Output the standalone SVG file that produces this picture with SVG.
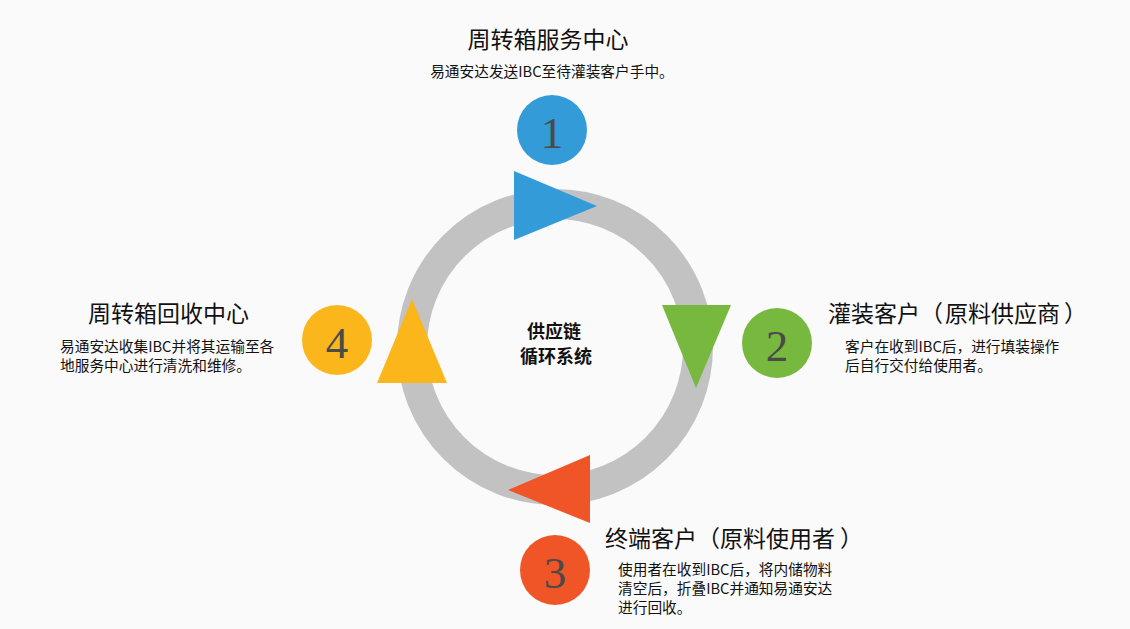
<svg xmlns="http://www.w3.org/2000/svg" width="1130" height="629" viewBox="0 0 1130 629">
<style>
.title{font-family:"Noto Sans CJK SC","Microsoft YaHei",sans-serif;font-size:23px;fill:#111}
.desc{font-family:"Noto Sans CJK SC","Microsoft YaHei",sans-serif;font-size:14.7px;fill:#111}
.center{font-family:"Noto Sans CJK SC",sans-serif;font-size:18px;font-weight:bold;fill:#111;text-anchor:middle}
.num{font-family:"Liberation Serif","DejaVu Serif",serif;font-size:45px;fill:#4a4a4a;text-anchor:middle}
</style>
<rect width="1130" height="629" fill="#fafafa"/>
<g id="connectors">
<circle cx="555" cy="347" r="143" fill="none" stroke="#c2c2c2" stroke-width="30"/>
</g>
<g id="center">
<text class="center" x="554" y="338">供应链</text>
<text class="center" x="556" y="363">循环系统</text>
</g>
<g id="node1">
<polygon points="514,171 514,240 597,206" fill="#339bd7"/>
<circle cx="552" cy="130" r="35" fill="#339bd7"/>
<text class="num" x="552" y="148">1</text>
<text class="title" x="548" y="48" text-anchor="middle">周转箱服务中心</text>
<text class="desc" x="552" y="77" text-anchor="middle">易通安达发送IBC至待灌装客户手中。</text>
</g>
<g id="node2">
<polygon points="662,305 731,305 696,388" fill="#77b83f"/>
<circle cx="777" cy="343" r="35" fill="#77b83f"/>
<text class="num" x="777" y="361">2</text>
<text class="title" y="322"><tspan x="828">灌装客户</tspan><tspan x="920">（</tspan><tspan x="945">原料供应商</tspan><tspan x="1064">）</tspan></text>
<text class="desc"><tspan x="845" y="352">客户在收到IBC后，进行填装操作</tspan><tspan x="845" y="371">后自行交付给使用者。</tspan></text>
</g>
<g id="node3">
<polygon points="590,455 590,523 508,490" fill="#ef5527"/>
<circle cx="555" cy="570" r="35" fill="#ef5527"/>
<text class="num" x="555" y="588">3</text>
<text class="title" y="547"><tspan x="605">终端客户</tspan><tspan x="697">（</tspan><tspan x="720">原料使用者</tspan><tspan x="840">）</tspan></text>
<text class="desc"><tspan x="618" y="575">使用者在收到IBC后，将内储物料</tspan><tspan x="618" y="594">清空后，折叠IBC并通知易通安达</tspan><tspan x="618" y="613">进行回收。</tspan></text>
</g>
<g id="node4">
<polygon points="412,299 377,383 447,383" fill="#fbb61b"/>
<circle cx="337" cy="340" r="35" fill="#fbb61b"/>
<text class="num" x="337" y="358">4</text>
<text class="title" x="88" y="322">周转箱回收中心</text>
<text class="desc"><tspan x="60" y="352">易通安达收集IBC并将其运输至各</tspan><tspan x="60" y="371">地服务中心进行清洗和维修。</tspan></text>
</g>
</svg>
